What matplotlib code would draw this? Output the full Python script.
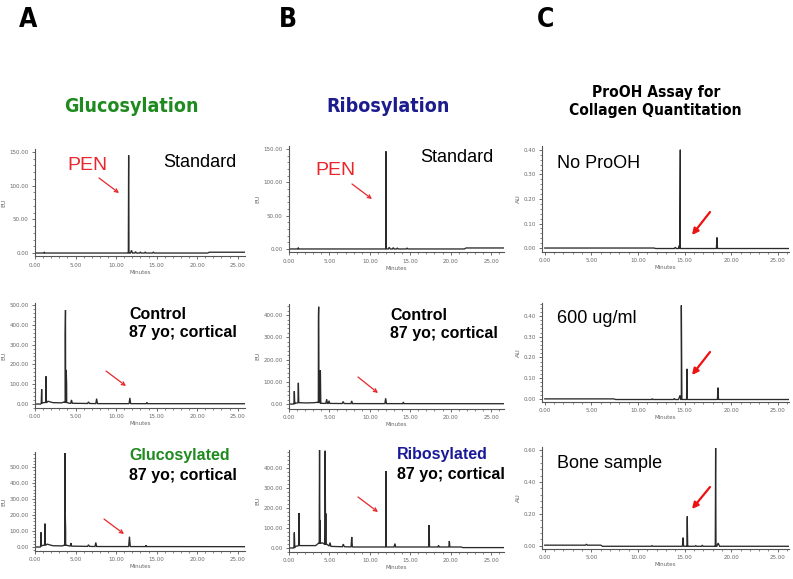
import numpy as np
import matplotlib
matplotlib.use("Agg")
import matplotlib.pyplot as plt
from matplotlib import font_manager
from matplotlib.ticker import FormatStrFormatter, MultipleLocator

# ---------------- data ----------------
# Panel A (Glucosylation) -- fluorescence, EU
A1_base_t = [0.0, 21.3, 21.5, 25.9]
A1_base_y = [0.0, 0.0, 1.2, 1.2]
A1_pk_t = [1.15, 11.55, 11.55, 11.9, 12.4, 13.0, 13.6, 14.6]
A1_pk_h = [1.5, 145.0, 95.0, 4.0, 2.0, 1.5, 1.5, 1.5]
A1_pk_w = [0.06, 0.04, 0.1, 0.12, 0.1, 0.1, 0.1, 0.1]

A2_base_t = [0.0, 0.7, 0.9, 1.4, 1.6, 2.2, 3.3, 3.55, 4.2, 8.0, 25.9]
A2_base_y = [0.0, 0.0, 6.0, 8.0, 14.0, 7.0, 6.0, 10.0, 4.0, 2.0, 1.5]
A2_pk_t = [0.82, 1.36, 1.36, 3.72, 3.76, 3.85, 3.9, 4.5, 6.6, 7.6, 11.7, 13.8]
A2_pk_h = [71.0, 132.0, 50.0, 340.0, 466.0, 165.0, 95.0, 17.0, 8.0, 25.0, 29.0, 6.0]
A2_pk_w = [0.05, 0.05, 0.1, 0.1, 0.04, 0.06, 0.12, 0.1, 0.12, 0.1, 0.1, 0.08]

A3_base_t = [0.0, 0.65, 0.8, 1.3, 1.5, 2.2, 3.4, 3.6, 4.5, 8.0, 25.9]
A3_base_y = [0.0, 0.0, 8.0, 12.0, 18.0, 8.0, 7.0, 12.0, 5.0, 3.0, 2.0]
A3_pk_t = [0.74, 1.23, 1.23, 3.68, 3.7, 3.74, 3.78, 4.44, 6.6, 7.5, 11.65, 13.7]
A3_pk_h = [87.0, 135.0, 56.0, 296.0, 577.0, 181.0, 87.0, 19.0, 10.0, 25.0, 62.0, 8.0]
A3_pk_w = [0.05, 0.05, 0.1, 0.1, 0.04, 0.08, 0.12, 0.1, 0.12, 0.1, 0.1, 0.08]

# Panel B (Ribosylation) -- fluorescence, EU
B1_base_t = [0.0, 21.7, 21.9, 26.6]
B1_base_y = [0.0, 0.0, 1.5, 1.5]
B1_pk_t = [1.15, 12.0, 12.0, 12.4, 12.9, 13.4, 14.6]
B1_pk_h = [2.0, 146.5, 96.0, 2.5, 2.0, 1.5, 1.5]
B1_pk_w = [0.06, 0.04, 0.1, 0.12, 0.1, 0.1, 0.1]

B2_base_t = [0.0, 0.6, 0.8, 1.3, 2.1, 3.1, 3.5, 4.1, 8.0, 26.6]
B2_base_y = [0.0, 0.0, 4.0, 6.0, 5.0, 6.0, 8.0, 3.0, 2.0, 1.5]
B2_pk_t = [0.66, 1.16, 3.64, 3.67, 3.8, 3.88, 4.66, 4.95, 6.7, 7.76, 11.96, 14.15]
B2_pk_h = [57.0, 90.0, 386.0, 431.0, 117.0, 147.0, 19.0, 12.0, 9.0, 12.0, 24.0, 7.0]
B2_pk_w = [0.05, 0.05, 0.1, 0.04, 0.08, 0.05, 0.1, 0.1, 0.12, 0.1, 0.1, 0.08]

B3_base_t = [0.0, 0.6, 0.8, 1.3, 3.3, 3.6, 4.1, 4.3, 5.2, 8.0, 21.3, 21.5, 26.6]
B3_base_y = [0.0, 0.0, 8.0, 12.0, 12.0, 22.0, 26.0, 22.0, 8.0, 5.0, 5.0, 2.0, 2.0]
B3_pk_t = [0.66, 1.24, 3.75, 3.78, 3.85, 4.46, 4.48, 4.55, 5.07, 6.72, 7.76,
           12.0, 12.0, 13.1, 17.33, 18.5, 19.84]
B3_pk_h = [75.0, 163.0, 197.0, 472.0, 113.0, 438.0, 467.0, 155.0, 17.0, 13.0, 50.0,
           380.0, 330.0, 17.0, 110.0, 8.0, 30.0]
B3_pk_w = [0.05, 0.05, 0.12, 0.04, 0.14, 0.1, 0.04, 0.14, 0.1, 0.12, 0.08,
           0.04, 0.1, 0.1, 0.06, 0.08, 0.06]

# Panel C (ProOH assay) -- absorbance, AU
C1_base_t = [0.0, 11.7, 11.9, 26.2]
C1_base_y = [0.0, 0.0, -0.002, -0.002]
C1_pk_t = [14.0, 14.4, 14.54, 14.54, 18.47]
C1_pk_h = [0.005, 0.012, 0.403, 0.02, 0.045]
C1_pk_w = [0.1, 0.15, 0.05, 0.2, 0.06]

C2_base_t = [0.0, 7.4, 7.6, 26.2]
C2_base_y = [0.0, 0.0, -0.003, -0.003]
C2_pk_t = [11.54, 13.9, 14.5, 14.65, 15.25, 15.25, 18.58]
C2_pk_h = [0.004, 0.005, 0.02, 0.454, 0.148, 0.116, 0.057]
C2_pk_w = [0.08, 0.08, 0.15, 0.06, 0.04, 0.1, 0.06]

C3_base_t = [0.0, 6.0, 6.2, 26.2]
C3_base_y = [0.004, 0.004, -0.003, -0.003]
C3_pk_t = [4.47, 11.5, 14.83, 15.29, 15.29, 16.2, 16.9, 18.33, 18.33, 18.6]
C3_pk_h = [0.006, 0.004, 0.054, 0.1875, 0.15, 0.004, 0.007, 0.615, 0.40, 0.02]
C3_pk_w = [0.1, 0.08, 0.06, 0.04, 0.1, 0.08, 0.08, 0.04, 0.1, 0.15]

# y tick values per row / column
A_yticks = [[0, 50, 100, 150], [0, 100, 200, 300, 400, 500], [0, 100, 200, 300, 400, 500]]
B_yticks = [[0, 50, 100, 150], [0, 100, 200, 300, 400], [0, 100, 200, 300, 400]]
C_yticks = [[0.0, 0.1, 0.2, 0.3, 0.4], [0.0, 0.1, 0.2, 0.3, 0.4], [0.0, 0.2, 0.4, 0.6]]
x_ticks = [0, 5, 10, 15, 20, 25]

# ---------------- fonts ----------------
ttf = font_manager.fontManager.ttflist
names = {f.name for f in ttf}
SANS = "Liberation Sans" if "Liberation Sans" in names else "DejaVu Sans"
if "Liberation Sans Narrow" in names:
    NARROW, NARROW_STRETCH = "Liberation Sans Narrow", "normal"
elif any(f.name == "DejaVu Sans" and f.stretch == "condensed" and f.weight in ("bold", 700) for f in ttf):
    NARROW, NARROW_STRETCH = "DejaVu Sans", "condensed"
else:
    NARROW, NARROW_STRETCH = SANS, "normal"

W, H = 793, 579
fig = plt.figure(figsize=(W / 100, H / 100), dpi=100)


def add_axes_px(left, top, right, bottom):
    return fig.add_axes([left / W, 1 - bottom / H, (right - left) / W, (bottom - top) / H])


def build_trace(bt, by, pt, ph, pw):
    pts = list(zip(bt, by))
    for t, h, w in zip(pt, ph, pw):
        b = float(np.interp(t, bt, by))
        pts += [(t - w, b), (t, b + h), (t + w, b)]
    pts.sort(key=lambda p: p[0])
    xs, ys = zip(*pts)
    return np.array(xs), np.array(ys)


def style_axes(ax, xlim, ylim, yticks, ylabel, fmt, yminor):
    ax.set_xlim(*xlim)
    ax.set_ylim(*ylim)
    ax.set_xticks(x_ticks)
    ax.xaxis.set_minor_locator(MultipleLocator(1))
    ax.set_yticks(yticks)
    ax.yaxis.set_minor_locator(MultipleLocator(yminor))
    ax.xaxis.set_major_formatter(FormatStrFormatter("%.2f"))
    ax.yaxis.set_major_formatter(FormatStrFormatter(fmt))
    for s in ["top", "right"]:
        ax.spines[s].set_visible(False)
    for s in ["left", "bottom"]:
        ax.spines[s].set_color("#555555")
        ax.spines[s].set_linewidth(0.8)
    ax.tick_params(which="major", length=2.5, width=0.6, color="#555555",
                   labelsize=4, labelcolor="#666666", pad=2)
    ax.tick_params(which="minor", length=1.3, width=0.5, color="#555555")
    ax.set_xlabel("Minutes", fontsize=4, color="#666666", labelpad=1.5)
    ax.set_ylabel(ylabel, fontsize=4.5, color="#666666", labelpad=2)
    ax.patch.set_alpha(0)


panels = [
    # (data, axes px box, xlim, ylim, yticks, ylabel, fmt, yminor)
    ((A1_base_t, A1_base_y, A1_pk_t, A1_pk_h, A1_pk_w), (35, 148.6, 245, 256.4), (0, 25.9), (-5, 155), A_yticks[0], "EU", "%.2f", 10),
    ((A2_base_t, A2_base_y, A2_pk_t, A2_pk_h, A2_pk_w), (35, 303, 245, 408), (0, 25.9), (-20, 510), A_yticks[1], "EU", "%.2f", 20),
    ((A3_base_t, A3_base_y, A3_pk_t, A3_pk_h, A3_pk_w), (35, 452, 245, 551), (0, 25.9), (-25, 595), A_yticks[2], "EU", "%.2f", 20),
    ((B1_base_t, B1_base_y, B1_pk_t, B1_pk_h, B1_pk_w), (289, 145.7, 504, 252.3), (0, 26.6), (-5, 155), B_yticks[0], "EU", "%.2f", 10),
    ((B2_base_t, B2_base_y, B2_pk_t, B2_pk_h, B2_pk_w), (289, 304, 504, 408.5), (0, 26.6), (-20, 450), B_yticks[1], "EU", "%.2f", 20),
    ((B3_base_t, B3_base_y, B3_pk_t, B3_pk_h, B3_pk_w), (289, 450, 504, 552), (0, 26.6), (-20, 490), B_yticks[2], "EU", "%.2f", 20),
    ((C1_base_t, C1_base_y, C1_pk_t, C1_pk_h, C1_pk_w), (542, 146.3, 789, 251.7), (-0.3, 26.2), (-0.015, 0.415), C_yticks[0], "AU", "%.2f", 0.02),
    ((C2_base_t, C2_base_y, C2_pk_t, C2_pk_h, C2_pk_w), (542, 302.5, 789, 402), (-0.3, 26.2), (-0.015, 0.465), C_yticks[1], "AU", "%.2f", 0.02),
    ((C3_base_t, C3_base_y, C3_pk_t, C3_pk_h, C3_pk_w), (542, 446.8, 789, 549), (-0.3, 26.2), (-0.02, 0.62), C_yticks[2], "AU", "%.2f", 0.04),
]

for data, box, xlim, ylim, yt, ylab, fmt, ymin in panels:
    ax = add_axes_px(*box)
    x, y = build_trace(*data)
    ax.plot(x, y, color="#2a2a2a", lw=0.95, solid_joinstyle="miter")
    style_axes(ax, xlim, ylim, yt, ylab, fmt, ymin)


def ftext(x, y, s, **kw):
    fig.text(x / W, 1 - y / H, s, **kw)


# panel letters
for lx, letter in [(19, "A"), (279, "B"), (537, "C")]:
    ftext(lx, 27, letter, fontsize=19, fontweight="bold", family=NARROW,
          fontstretch=NARROW_STRETCH, va="baseline", ha="left")

# column titles
ftext(131, 112, "Glucosylation", fontsize=14, fontweight="bold", family=NARROW,
      fontstretch=NARROW_STRETCH, color="#1f8a1f", ha="center", va="baseline")
ftext(388, 112, "Ribosylation", fontsize=14, fontweight="bold", family=NARROW,
      fontstretch=NARROW_STRETCH, color="#1c1c8f", ha="center", va="baseline")
ftext(656, 97, "ProOH Assay for", fontsize=11.2, fontweight="bold", family=NARROW,
      fontstretch=NARROW_STRETCH, color="black", ha="center", va="baseline")
ftext(655, 115, "Collagen Quantitation", fontsize=11.2, fontweight="bold", family=NARROW,
      fontstretch=NARROW_STRETCH, color="black", ha="center", va="baseline")

RED = "#e8262b"
GREEN = "#1f8a1f"
BLUE = "#1a1a99"

# panel labels
ftext(67, 170, "PEN", fontsize=14, family=SANS, color=RED, va="baseline")
ftext(163, 167, "Standard", fontsize=13, family=SANS, va="baseline")
ftext(315, 175, "PEN", fontsize=14, family=SANS, color=RED, va="baseline")
ftext(420, 162, "Standard", fontsize=13, family=SANS, va="baseline")

ftext(129, 319, "Control", fontsize=11.5, family=SANS, fontweight="bold", va="baseline")
ftext(129, 337, "87 yo; cortical", fontsize=11.5, family=SANS, fontweight="bold", va="baseline")
ftext(390, 320, "Control", fontsize=11.5, family=SANS, fontweight="bold", va="baseline")
ftext(390, 338, "87 yo; cortical", fontsize=11.5, family=SANS, fontweight="bold", va="baseline")

ftext(129, 460, "Glucosylated", fontsize=11.5, family=SANS, fontweight="bold", color=GREEN, va="baseline")
ftext(129, 480, "87 yo; cortical", fontsize=11.5, family=SANS, fontweight="bold", va="baseline")
ftext(397, 459, "Ribosylated", fontsize=11.5, family=SANS, fontweight="bold", color=BLUE, va="baseline")
ftext(397, 479, "87 yo; cortical", fontsize=11.5, family=SANS, fontweight="bold", va="baseline")

ftext(557, 168, "No ProOH", fontsize=13, family=SANS, va="baseline")
ftext(557, 323, "600 ug/ml", fontsize=13, family=SANS, va="baseline")
ftext(557, 468, "Bone sample", fontsize=13, family=SANS, va="baseline")


def arrow(x0, y0, x1, y1, style, lw, color, ms):
    fig.patches.append(matplotlib.patches.FancyArrowPatch(
        (x0 / W, 1 - y0 / H), (x1 / W, 1 - y1 / H), transform=fig.transFigure,
        arrowstyle=style, mutation_scale=ms, lw=lw, color=color,
        shrinkA=0, shrinkB=0))


for a in [(99, 178, 119, 193), (106, 371, 126, 386), (104, 519, 124, 534),
          (352, 184, 372, 199), (358, 377, 378, 393), (358, 497, 378, 512)]:
    arrow(*a, style="->", lw=0.9, color=RED, ms=6)
for a in [(710, 212, 692, 235), (710, 352, 692, 375), (710, 487, 692, 509)]:
    arrow(*a, style="-|>", lw=1.6, color="#ee1111", ms=9)

fig.savefig("out.png", dpi=100, facecolor="white")
